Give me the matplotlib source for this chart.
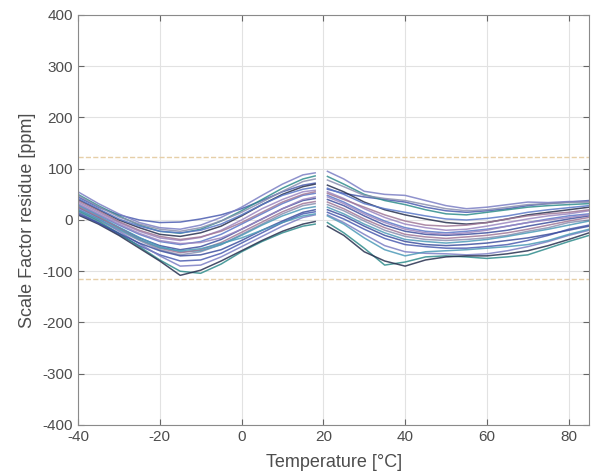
import numpy as np
import matplotlib.pyplot as plt

plt.rcParams["font.family"] = ["Liberation Sans", "DejaVu Sans"]
plt.rcParams["axes.unicode_minus"] = False

# temperature grids (curves are interrupted between ~18 and ~21 degC)
temp_lo = [-40, -35, -30, -25, -20, -15, -10, -5, 0, 5, 10, 15, 18]
temp_hi = [21, 25, 30, 35, 40, 45, 50, 55, 60, 65, 70, 75, 80, 85]

# residue [ppm] per sensor, low-temperature branch
res_lo = [
    [45, 25, 10, 0, -5, -4, 2, 10, 22, 38, 55, 68, 72],
    [55, 32, 12, -5, -15, -18, -10, 5, 25, 48, 70, 88, 92],
    [50, 28, 8, -10, -22, -26, -18, -2, 18, 40, 62, 80, 86],
    [40, 20, 0, -15, -28, -32, -25, -12, 8, 30, 50, 65, 70],
    [35, 15, -5, -22, -35, -40, -34, -20, 0, 22, 40, 55, 58],
    [30, 10, -10, -28, -42, -48, -42, -28, -8, 12, 32, 48, 52],
    [38, 18, -3, -20, -32, -38, -33, -22, -5, 15, 35, 50, 55],
    [25, 5, -15, -35, -50, -58, -52, -38, -18, 2, 22, 38, 42],
    [20, 0, -20, -40, -58, -68, -62, -48, -28, -8, 12, 28, 32],
    [28, 8, -14, -34, -52, -62, -60, -48, -30, -10, 8, 22, 26],
    [15, -5, -28, -50, -68, -80, -78, -65, -45, -25, -5, 12, 16],
    [22, 2, -22, -46, -70, -90, -88, -72, -52, -32, -12, 5, 10],
    [18, -2, -26, -52, -78, -100, -104, -86, -62, -42, -25, -12, -8],
    [10, -8, -30, -55, -80, -108, -98, -80, -60, -40, -22, -8, -3],
    [32, 12, -8, -26, -40, -46, -44, -35, -18, 2, 22, 40, 45],
    [42, 22, 2, -12, -22, -25, -20, -8, 10, 30, 48, 60, 64],
    [26, 6, -16, -38, -55, -64, -58, -44, -24, -4, 16, 32, 36],
    [12, -6, -26, -45, -60, -70, -68, -58, -40, -20, -2, 15, 20],
    [48, 26, 6, -8, -18, -22, -15, -2, 15, 35, 56, 75, 80],
    [20, 2, -18, -38, -54, -60, -56, -46, -35, -20, -5, 8, 12],
]

# residue [ppm] per sensor, high-temperature branch
res_hi = [
    [60, 52, 45, 40, 35, 25, 18, 15, 18, 22, 28, 32, 35, 38],
    [95, 80, 56, 50, 48, 38, 28, 22, 25, 30, 35, 34, 36, 36],
    [85, 70, 50, 38, 30, 20, 12, 10, 15, 20, 25, 28, 30, 32],
    [68, 55, 35, 20, 10, 2, -5, -8, -5, 2, 10, 15, 20, 25],
    [55, 42, 22, 5, -8, -15, -20, -18, -12, -5, 2, 8, 12, 18],
    [48, 35, 15, -2, -15, -22, -25, -22, -18, -12, -5, 2, 8, 12],
    [52, 40, 25, 10, -2, -10, -12, -10, -5, 2, 8, 12, 15, 20],
    [40, 28, 8, -10, -22, -28, -30, -28, -25, -20, -12, -5, 2, 8],
    [30, 18, -2, -20, -32, -38, -40, -38, -35, -30, -22, -15, -5, 0],
    [25, 12, -8, -25, -38, -42, -45, -42, -38, -32, -25, -18, -10, -2],
    [15, 2, -18, -36, -48, -52, -55, -55, -52, -48, -40, -30, -18, -10],
    [10, -5, -28, -50, -62, -65, -66, -68, -66, -60, -52, -42, -30, -20],
    [-5, -25, -55, -88, -82, -72, -70, -72, -75, -72, -68, -55, -42, -30],
    [-12, -30, -62, -80, -90, -78, -72, -70, -70, -66, -60, -50, -38, -25],
    [45, 32, 12, -5, -18, -25, -28, -25, -20, -12, -5, 0, 5, 10],
    [62, 50, 32, 22, 15, 8, 2, 0, 3, 8, 15, 20, 24, 28],
    [35, 22, 2, -15, -28, -33, -36, -33, -30, -25, -18, -10, -2, 5],
    [20, 8, -12, -30, -42, -48, -50, -48, -45, -40, -35, -28, -20, -12],
    [78, 65, 48, 42, 38, 30, 22, 18, 20, 25, 30, 32, 34, 35],
    [8, -8, -35, -58, -70, -62, -60, -58, -55, -52, -48, -40, -28, -18],
]

limit_hi = 123
limit_lo = -115

colors = ["#4a5cb0", "#7b7fc4", "#2f8c8c", "#27304f", "#9a86c0", "#5a78c8",
          "#a07898", "#3d4f9e", "#8a8fb0", "#4d9ab8"]

fig = plt.figure(figsize=(5.93, 4.73), dpi=100)
ax = fig.add_axes([0.1315, 0.1015, 0.862, 0.8668])

for i, (lo, hi) in enumerate(zip(res_lo, res_hi)):
    c = colors[i % len(colors)]
    ax.plot(temp_lo, lo, color=c, lw=1.1, alpha=0.85)
    ax.plot(temp_hi, hi, color=c, lw=1.1, alpha=0.85)

ax.axhline(limit_hi, color="#e6cfa8", ls="--", lw=1.0)
ax.axhline(limit_lo, color="#e6cfa8", ls="--", lw=1.0)

ax.set_xlim(-40, 85)
ax.set_ylim(-400, 400)
ax.set_xticks(np.arange(-40, 81, 20))
ax.set_yticks(np.arange(-400, 401, 100))
ax.grid(True, color="#e2e2e2", lw=0.8)
ax.set_axisbelow(True)
ax.tick_params(direction="in", top=True, right=True, colors="#666666",
               labelcolor="#4d4d4d", labelsize=11, length=4)
for s in ax.spines.values():
    s.set_color("#8a8a8a")

ax.set_xlabel("Temperature [°C]", fontsize=13, color="#4d4d4d", labelpad=7)
ax.set_ylabel("Scale Factor residue [ppm]", fontsize=13, color="#4d4d4d", labelpad=5)

fig.savefig("out.png", dpi=100)
